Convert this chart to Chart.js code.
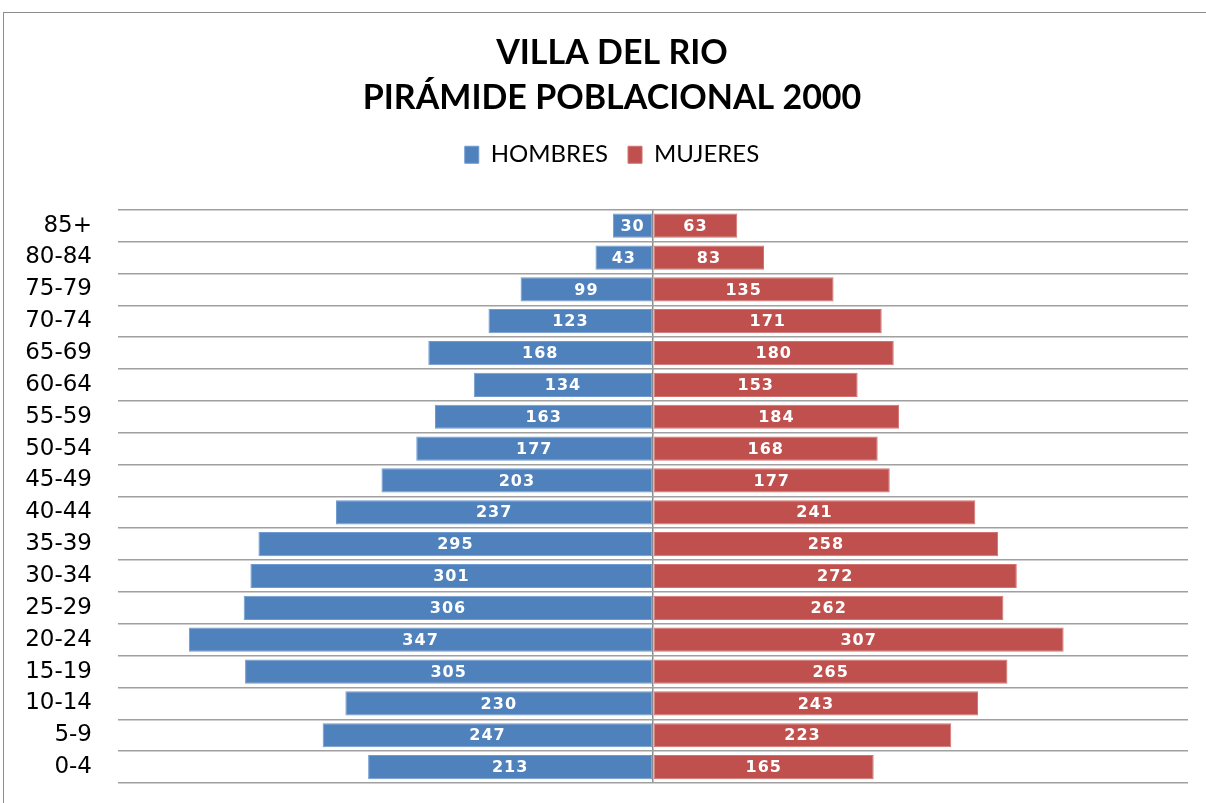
<!DOCTYPE html>
<html>
<head>
<meta charset="utf-8">
<script src="https://cdn.jsdelivr.net/npm/chart.js@4"></script>
<style>
  body { margin: 0; background: #fff; overflow: hidden; }
  #wrap { position: relative; width: 1206px; height: 803px; overflow: hidden; }
  #frame { position: absolute; left: 3px; top: 12px; width: 1210px; height: 800px;
           border-left: 1px solid #8c8c8c; border-top: 1px solid #8c8c8c; pointer-events: none; }
</style>
</head>
<body>
<div id="wrap">
  <canvas id="myChart" width="1214" height="803"></canvas>
  <div id="frame"></div>
</div>
<script>
// grupos de edad (de arriba hacia abajo)
const grupos = ['85+', '80-84', '75-79', '70-74', '65-69', '60-64', '55-59', '50-54', '45-49',
  '40-44', '35-39', '30-34', '25-29', '20-24', '15-19', '10-14', '5-9', '0-4'];

// hombres
const hombres = [30, 43, 99, 123, 168, 134, 163, 177, 203, 237, 295, 301, 306, 347, 305, 230, 247, 213];

// mujeres
const mujeres = [63, 83, 135, 171, 180, 153, 184, 168, 177, 241, 258, 272, 262, 307, 265, 243, 223, 165];

// etiquetas dentro de las barras
const etiquetas = {
  id: 'etiquetas',
  afterDatasetsDraw(chart) {
    const ctx = chart.ctx;
    ctx.save();
    ctx.fillStyle = '#ffffff';
    ctx.font = 'bold 16px "DejaVu Sans"';
    ctx.letterSpacing = '1px';
    ctx.textAlign = 'center';
    ctx.textBaseline = 'middle';
    chart.data.datasets.forEach((ds, i) => {
      chart.getDatasetMeta(i).data.forEach((bar, j) => {
        const cx = (bar.x + bar.base) / 2;
        ctx.fillText(String(Math.abs(ds.data[j])), cx, bar.y + 1);
      });
    });
    ctx.restore();
  }
};

// espacio debajo de la leyenda
const margenLeyenda = {
  id: 'margenLeyenda',
  beforeInit(chart) {
    const fit = chart.legend.fit;
    chart.legend.fit = function () {
      fit.bind(chart.legend)();
      this.height += 33;
    };
  }
};

const config = {
  type: 'bar',
  data: {
    labels: grupos,
    datasets: [{
      label: 'HOMBRES',
      data: hombres.map(v => -v),
      backgroundColor: '#4F81BD',
      borderColor: '#6f9bd0',
      borderWidth: 1,
      borderSkipped: false,
      barPercentage: 0.76,
      categoryPercentage: 1
    }, {
      label: 'MUJERES',
      data: mujeres,
      backgroundColor: '#C0504D',
      borderColor: '#d27370',
      borderWidth: 1,
      borderSkipped: false,
      barPercentage: 0.76,
      categoryPercentage: 1
    }]
  },
  options: {
    indexAxis: 'y',
    responsive: false,
    animation: false,
    layout: { padding: { left: 10, right: 0, top: 31, bottom: 20 } },
    plugins: {
      title: {
        display: true,
        text: ['VILLA DEL RIO', 'PIRÁMIDE POBLACIONAL 2000'],
        color: '#000',
        font: { family: 'Lato', size: 34, weight: 'bold', lineHeight: 1.32 },
        padding: { top: 0, bottom: 2 }
      },
      legend: {
        labels: {
          color: '#000',
          font: { family: 'Lato', size: 24 },
          boxWidth: 14,
          boxHeight: 17,
          padding: 20
        }
      },
      tooltip: { enabled: false }
    },
    scales: {
      x: {
        stacked: true,
        min: -400,
        max: 400,
        ticks: { display: false },
        border: { display: false },
        grid: {
          drawTicks: false,
          color: ctx => (ctx.tick && ctx.tick.value === 0) ? '#8c8c8c' : 'rgba(0,0,0,0)',
          lineWidth: 1.5
        },
        afterFit(scale) { scale.height = 0; }
      },
      y: {
        stacked: true,
        border: { display: false },
        grid: { color: '#a0a0a0', lineWidth: 1.5, drawTicks: false, offset: true },
        ticks: {
          color: '#000',
          font: { family: 'DejaVu Sans', size: 23 },
          padding: 26
        },
        afterFit(scale) {
          scale.width = 108;
          scale.paddingTop = 0;
          scale.paddingBottom = 0;
        }
      },
      // eje vacío a la derecha (solo margen)
      yDer: {
        type: 'category',
        position: 'right',
        ticks: { display: false },
        grid: { display: false },
        border: { display: false },
        afterFit(scale) {
          scale.width = 26;
          scale.paddingTop = 0;
          scale.paddingBottom = 0;
        }
      }
    }
  },
  plugins: [etiquetas, margenLeyenda]
};

const myChart = new Chart(document.getElementById('myChart'), config);
</script>
</body>
</html>
